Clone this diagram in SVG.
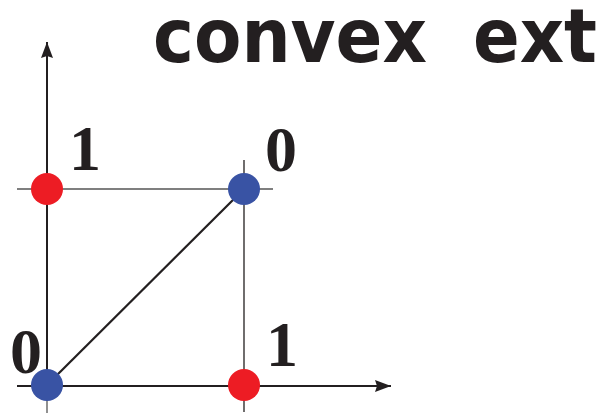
<svg xmlns="http://www.w3.org/2000/svg" width="607" height="414" viewBox="0 0 607 414">
<style>
.axis{stroke:#231f20;stroke-width:2;fill:none}
.grid{stroke:#555;stroke-width:1.3;fill:none}
.diag{stroke:#231f20;stroke-width:2.2;fill:none}
.red{fill:#ed1c24}
.blue{fill:#3953a4}
.lbl{font-family:"Liberation Serif",serif;font-weight:bold;font-size:64px;fill:#231f20;text-anchor:middle}
.title{font-family:"DejaVu Sans",sans-serif;font-weight:bold;font-size:74px;fill:#231f20}
</style>
<defs>
<marker id="ah" viewBox="0 0 16 12" refX="16" refY="6" markerWidth="16" markerHeight="12" markerUnits="userSpaceOnUse" orient="auto">
<path d="M0,0 L16,6 L0,12 L2,6 Z" fill="#231f20"/>
</marker>
</defs>
<g id="connectors">
<line class="grid" x1="17" y1="189" x2="273" y2="189"/>
<line class="grid" x1="244" y1="160" x2="244" y2="412" style="stroke:#231f20;stroke-width:1.3"/>
<line class="grid" x1="47" y1="385" x2="47" y2="413"/>
<line class="axis" x1="17" y1="386" x2="391" y2="386" marker-end="url(#ah)"/>
<line class="axis" x1="47" y1="400" x2="47" y2="42" marker-end="url(#ah)"/>
<line class="diag" x1="47" y1="385" x2="244" y2="189"/>
</g>
<g id="node-00">
<circle class="blue" cx="47" cy="385" r="16"/>
<text class="lbl" x="26" y="373">0</text>
</g>
<g id="node-01">
<circle class="red" cx="47" cy="189" r="16"/>
<text class="lbl" x="85" y="170">1</text>
</g>
<g id="node-11">
<circle class="blue" cx="244" cy="189" r="16"/>
<text class="lbl" x="281" y="171">0</text>
</g>
<g id="node-10">
<circle class="red" cx="244" cy="385" r="16"/>
<text class="lbl" x="282" y="366">1</text>
</g>
<g id="title">
<text class="title" y="62"><tspan x="153" textLength="274" lengthAdjust="spacingAndGlyphs">convex</tspan> <tspan x="473" textLength="124" lengthAdjust="spacingAndGlyphs">ext</tspan></text>
</g>
</svg>
